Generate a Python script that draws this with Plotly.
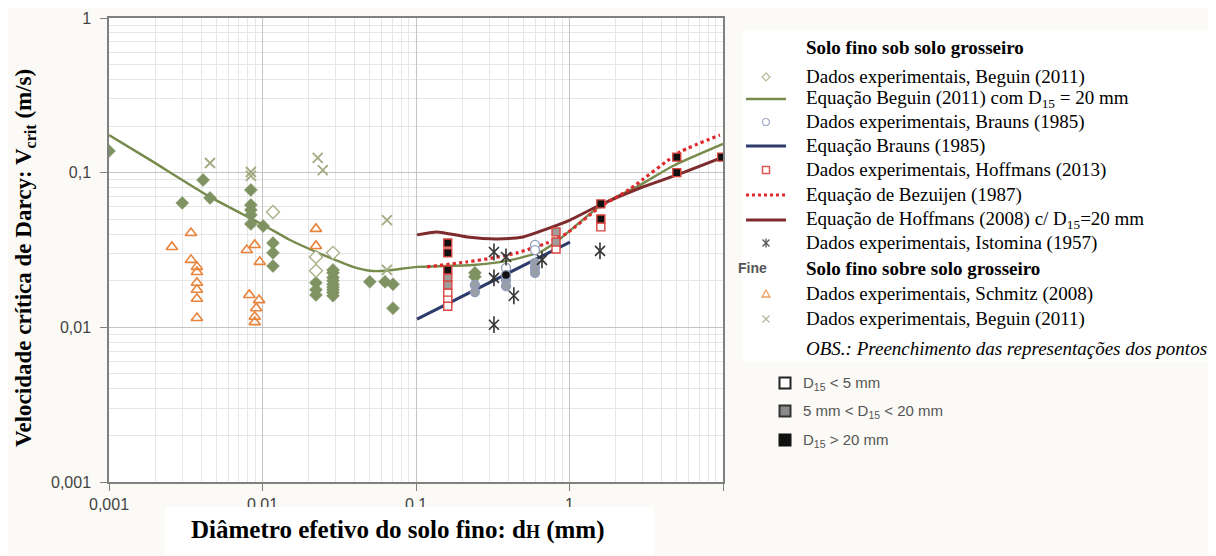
import plotly.graph_objects as go

# ---------------- DATA ----------------
# Equação Beguin (2011) com D15 = 20 mm
beguin_eq_x = [0.001, 0.00185, 0.00455, 0.0101, 0.0151, 0.0224, 0.032, 0.0389, 0.0501, 0.0628,
               0.1016, 0.235, 0.391, 0.643, 0.867, 1.58, 2.88, 4.72, 10.0]
beguin_eq_y = [0.175, 0.121, 0.0697, 0.0459, 0.0367, 0.0307, 0.0265, 0.0246, 0.0232, 0.0232,
               0.0246, 0.0253, 0.0269, 0.0307, 0.0373, 0.0609, 0.0832, 0.1105, 0.1534]
# Equação Brauns (1985)
brauns_eq_x = [0.1016, 1.007]
brauns_eq_y = [0.0113, 0.0356]
# Equação de Bezuijen (1987)
bezuijen_eq_x = [0.118, 0.215, 0.318, 0.455, 0.713, 0.964, 1.58, 2.48, 5.25, 9.55]
bezuijen_eq_y = [0.0246, 0.0265, 0.0281, 0.0303, 0.0351, 0.0407, 0.060, 0.0785, 0.136, 0.175]
# Equação de Hoffmans (2008) c/ D15=20 mm
hoffmans_eq_x = [0.1016, 0.137, 0.215, 0.337, 0.498, 0.713, 1.007, 1.58, 2.88, 5.01, 10.0]
hoffmans_eq_y = [0.0396, 0.0414, 0.0384, 0.0373, 0.0384, 0.0433, 0.0494, 0.0618, 0.0796, 0.0967, 0.126]

# Dados experimentais, Beguin (2011) - solo fino sob solo grosseiro (filled diamonds)
beguin_fill_x = [0.001, 0.0030, 0.0041, 0.00455, 0.0084, 0.0084, 0.0084, 0.0084, 0.0084, 0.0101,
                 0.0117, 0.0117, 0.0117, 0.0223, 0.0223, 0.0223,
                 0.0288, 0.0288, 0.0288, 0.0288, 0.0288, 0.0288, 0.0288, 0.0288, 0.0288,
                 0.050, 0.0628, 0.0708, 0.0708, 0.242, 0.242]
beguin_fill_y = [0.138, 0.0637, 0.0897, 0.0687, 0.0773, 0.0618, 0.0574, 0.0533, 0.0466, 0.0452,
                 0.0351, 0.0303, 0.0249, 0.0194, 0.0175, 0.0162,
                 0.0235, 0.0225, 0.021, 0.020, 0.019, 0.0182, 0.0175, 0.0168, 0.016,
                 0.0197, 0.0197, 0.019, 0.0133, 0.0212, 0.0225]
# hollow diamonds (D15 < 5 mm)
beguin_open_x = [0.0117, 0.0223, 0.0223, 0.0288]
beguin_open_y = [0.0557, 0.0285, 0.0232, 0.0303]

# Dados experimentais, Beguin (2011) - solo fino sobre solo grosseiro (x)
beguin_x_x = [0.00455, 0.0084, 0.0084, 0.0229, 0.0247, 0.0647, 0.0647]
beguin_x_y = [0.1155, 0.101, 0.0952, 0.1245, 0.104, 0.0494, 0.0235]

# Dados experimentais, Schmitz (2008)
schmitz_x = [0.00257, 0.00342, 0.00342, 0.00374, 0.00374, 0.00374, 0.00374, 0.00374, 0.00374,
             0.0079, 0.0089, 0.0096, 0.0082, 0.0095, 0.0091, 0.0089, 0.0089, 0.0223, 0.0223]
schmitz_y = [0.0331, 0.0407, 0.0273, 0.0246, 0.0228, 0.0194, 0.0175, 0.0153, 0.0115,
             0.0316, 0.0341, 0.0265, 0.0162, 0.015, 0.0133, 0.0117, 0.0108, 0.0433, 0.0336]

# Dados experimentais, Brauns (1985)
brauns_grey_x = [0.242, 0.242, 0.386, 0.386, 0.596, 0.596, 0.596]
brauns_grey_y = [0.0188, 0.0169, 0.0202, 0.0185, 0.0261, 0.0242, 0.0225]
brauns_open_x = [0.386, 0.596, 0.596]
brauns_open_y = [0.0242, 0.0341, 0.0316]
brauns_black_x = [0.386]
brauns_black_y = [0.0218]

# Dados experimentais, Hoffmans (2013)
hoff_black_x = [0.161, 0.161, 0.161, 1.6, 1.6, 5.0, 5.0, 9.8]
hoff_black_y = [0.0351, 0.0303, 0.0235, 0.0628, 0.0502, 0.126, 0.100, 0.126]
hoff_grey_x = [0.161, 0.161, 0.817, 0.817]
hoff_grey_y = [0.0209, 0.0188, 0.0414, 0.0356]
hoff_open_x = [0.161, 0.161, 0.161, 0.817, 1.6]
hoff_open_y = [0.0167, 0.015, 0.0137, 0.0321, 0.0446]

# Dados experimentais, Istomina (1957)
istomina_x = [0.322, 0.386, 0.322, 0.434, 0.322, 0.662, 1.58]
istomina_y = [0.0307, 0.0285, 0.0209, 0.016, 0.0104, 0.0273, 0.0312]

x_tick_vals = [0.001, 0.01, 0.1, 1, 10]
x_tick_text = ["0,001", "0,01", "0,1", "1", ""]
y_tick_vals = [0.001, 0.01, 0.1, 1]
y_tick_text = ["0,001", "0,01", "0,1", "1"]

# ---------------- STYLE / LAYOUT ----------------
W, H = 1216, 556
PAGE = 8                      # page offset of the figure in the browser
PL, PR, PT, PB = 109, 723, 18, 482   # plot box in screen pixels
ML, MT = PL - PAGE, PT - PAGE
PW, PH = PR - PL, PB - PT
MR, MB = W - ML - PW, H - MT - PH

OLIVE = "#778b4c"
OLIVE_FILL = "#7f9362"
NAVY = "#2d3b6a"
RED = "#e0282c"
MAROON = "#7e2b2d"
ORANGE = "#e8843c"
LIGHTGREEN = "#a3ab82"
SQ_RED = "#d9443f"
CIRC = "#8e9cbc"
SERIF = "Liberation Serif"
SANS = "Liberation Sans"


def pxx(p):  # screen pixel -> paper x
    return (p - PL) / PW


def pxy(p):  # screen pixel -> paper y
    return (PB - p) / PH


fig = go.Figure()

# lines
fig.add_trace(go.Scatter(x=beguin_eq_x, y=beguin_eq_y, mode="lines",
                         line=dict(color=OLIVE, width=2.4, shape="spline", smoothing=0.6)))
fig.add_trace(go.Scatter(x=brauns_eq_x, y=brauns_eq_y, mode="lines", line=dict(color=NAVY, width=3)))
fig.add_trace(go.Scatter(x=hoffmans_eq_x, y=hoffmans_eq_y, mode="lines",
                         line=dict(color=MAROON, width=3, shape="spline", smoothing=0.6)))
fig.add_trace(go.Scatter(x=bezuijen_eq_x, y=bezuijen_eq_y, mode="lines",
                         line=dict(color=RED, width=3.2, dash="dot", shape="spline", smoothing=0.6)))

# markers
fig.add_trace(go.Scatter(x=schmitz_x, y=schmitz_y, mode="markers",
                         marker=dict(symbol="triangle-up-open", size=10, color=ORANGE, line=dict(width=1.6, color=ORANGE))))
fig.add_trace(go.Scatter(x=beguin_x_x, y=beguin_x_y, mode="markers",
                         marker=dict(symbol="x-thin-open", size=10, color=LIGHTGREEN, line=dict(width=1.8, color=LIGHTGREEN))))
fig.add_trace(go.Scatter(x=beguin_fill_x, y=beguin_fill_y, mode="markers",
                         marker=dict(symbol="diamond", size=10, color=OLIVE_FILL, line=dict(width=0.5, color=OLIVE_FILL))))
fig.add_trace(go.Scatter(x=beguin_open_x, y=beguin_open_y, mode="markers",
                         marker=dict(symbol="diamond", size=10, color="white", line=dict(width=1.4, color="#a8b28a"))))
fig.add_trace(go.Scatter(x=brauns_grey_x, y=brauns_grey_y, mode="markers",
                         marker=dict(symbol="circle", size=9, color="#9a9ea6", line=dict(width=1.3, color=CIRC))))
fig.add_trace(go.Scatter(x=brauns_open_x, y=brauns_open_y, mode="markers",
                         marker=dict(symbol="circle", size=9, color="white", line=dict(width=1.3, color=CIRC))))
fig.add_trace(go.Scatter(x=brauns_black_x, y=brauns_black_y, mode="markers",
                         marker=dict(symbol="circle", size=9, color="#111111", line=dict(width=1.3, color=CIRC))))
# Istomina: "x" + vertical bar
fig.add_trace(go.Scatter(x=istomina_x, y=istomina_y, mode="markers",
                         marker=dict(symbol="x-thin-open", size=10, color="#333333", line=dict(width=1.6, color="#333333"))))
fig.add_trace(go.Scatter(x=istomina_x, y=istomina_y, mode="markers",
                         marker=dict(symbol="line-ns-open", size=12, color="#333333", line=dict(width=1.6, color="#333333"))))
fig.add_trace(go.Scatter(x=hoff_open_x, y=hoff_open_y, mode="markers",
                         marker=dict(symbol="square", size=8, color="white", line=dict(width=1.4, color=SQ_RED))))
fig.add_trace(go.Scatter(x=hoff_grey_x, y=hoff_grey_y, mode="markers",
                         marker=dict(symbol="square", size=8, color="#a09c9a", line=dict(width=1.4, color=SQ_RED))))
fig.add_trace(go.Scatter(x=hoff_black_x, y=hoff_black_y, mode="markers",
                         marker=dict(symbol="square", size=8, color="#111111", line=dict(width=1.4, color=SQ_RED))))

# ---------------- LEGEND (shapes + annotations, screen pixel positions) ----------------
ROW = dict(h1=47, beg=77, begeq=99, bra=122, braeq=146, hof=170, bez=195, hofeq=220, ist=243,
           h2=268, sch=294, begx=319, obs=348, s1=383, s2=411, s3=440)
LX0, LX1, LM, TX = 746, 786, 766, 804

shapes = [
    # white box behind the legend text
    dict(type="rect", xref="paper", yref="paper", x0=pxx(742), x1=pxx(W + 20), y0=pxy(30), y1=pxy(362),
         fillcolor="white", line=dict(width=0), layer="below"),
    # white box behind the x-axis title
    dict(type="rect", xref="paper", yref="paper", x0=pxx(165), x1=pxx(654), y0=pxy(507), y1=pxy(H + 20),
         fillcolor="white", line=dict(width=0), layer="above"),
]


def leg_line(yp, color, dash="solid", width=3):
    shapes.append(dict(type="line", xref="paper", yref="paper", x0=pxx(LX0), x1=pxx(LX1),
                       y0=pxy(yp), y1=pxy(yp), line=dict(color=color, width=width, dash=dash)))


def pth(points, close=True):
    s = "M " + " L ".join(f"{pxx(x):.5f},{pxy(y):.5f}" for x, y in points)
    return s + (" Z" if close else "")


def leg_poly(points, fill, lc, lw=1.2, close=True):
    shapes.append(dict(type="path", xref="paper", yref="paper", path=pth(points, close),
                       fillcolor=fill, line=dict(color=lc, width=lw)))


def leg_rect(cx, cy, r, fill, lc, lw=1.2):
    shapes.append(dict(type="rect", xref="paper", yref="paper", x0=pxx(cx - r), x1=pxx(cx + r),
                       y0=pxy(cy + r), y1=pxy(cy - r), fillcolor=fill, line=dict(color=lc, width=lw)))


def leg_circle(cx, cy, r, fill, lc, lw=1.2):
    shapes.append(dict(type="circle", xref="paper", yref="paper", x0=pxx(cx - r), x1=pxx(cx + r),
                       y0=pxy(cy + r), y1=pxy(cy - r), fillcolor=fill, line=dict(color=lc, width=lw)))


r = 4
leg_poly([(LM, ROW["beg"] - r), (LM + r, ROW["beg"]), (LM, ROW["beg"] + r), (LM - r, ROW["beg"])], "white", "#b3bb96")
leg_line(ROW["begeq"], OLIVE, width=2.5)
leg_circle(LM, ROW["bra"], 3.5, "white", "#a3acc6")
leg_line(ROW["braeq"], NAVY)
leg_rect(LM, ROW["hof"], 3.5, "white", "#de5a56", 1.5)
leg_line(ROW["bez"], RED, dash="dot")
leg_line(ROW["hofeq"], MAROON)
yi = ROW["ist"]
leg_poly([(LM - 3.5, yi - 3.5), (LM + 3.5, yi + 3.5)], None, "#555", 1.3, close=False)
leg_poly([(LM - 3.5, yi + 3.5), (LM + 3.5, yi - 3.5)], None, "#555", 1.3, close=False)
leg_poly([(LM, yi - 4.5), (LM, yi + 4.5)], None, "#555", 1.3, close=False)
ys = ROW["sch"]
leg_poly([(LM, ys - 4), (LM + 4, ys + 3), (LM - 4, ys + 3)], "white", "#eda060", 1.3)
yb = ROW["begx"]
leg_poly([(LM - 3.5, yb - 3.5), (LM + 3.5, yb + 3.5)], None, "#b3b99a", 1.3, close=False)
leg_poly([(LM - 3.5, yb + 3.5), (LM + 3.5, yb - 3.5)], None, "#b3b99a", 1.3, close=False)
leg_rect(785, ROW["s1"], 5.5, "white", "#222", 2)
leg_rect(785, ROW["s2"], 5.5, "#8a8a8a", "#333", 2)
leg_rect(785, ROW["s3"], 5.5, "#111", "#111", 2)

annotations = []
legend_rows = [
    ("h1", "<b>Solo fino sob solo grosseiro</b>"),
    ("beg", "Dados experimentais, Beguin (2011)"),
    ("begeq", "Equação Beguin (2011) com D<sub>15</sub> = 20 mm"),
    ("bra", "Dados experimentais, Brauns (1985)"),
    ("braeq", "Equação Brauns (1985)"),
    ("hof", "Dados experimentais, Hoffmans (2013)"),
    ("bez", "Equação de Bezuijen (1987)"),
    ("hofeq", "Equação de Hoffmans (2008) c/ D<sub>15</sub>=20 mm"),
    ("ist", "Dados experimentais, Istomina (1957)"),
    ("h2", "<b>Solo fino sobre solo grosseiro</b>"),
    ("sch", "Dados experimentais, Schmitz (2008)"),
    ("begx", "Dados experimentais, Beguin (2011)"),
    ("obs", "<i>OBS.: Preenchimento das representações dos pontos</i>"),
]
for key, t in legend_rows:
    annotations.append(dict(x=pxx(TX), y=pxy(ROW[key]), xref="paper", yref="paper", text=t, showarrow=False,
                            xanchor="left", yanchor="middle", font=dict(family=SERIF, size=19, color="black")))
annotations.append(dict(x=pxx(736), y=pxy(ROW["h2"]), xref="paper", yref="paper", text="<b>Fine</b>",
                        showarrow=False, xanchor="left", yanchor="middle",
                        font=dict(family=SANS, size=14, color="#555")))
for key, t in [("s1", "D<sub>15</sub> < 5 mm"), ("s2", "5 mm < D<sub>15</sub> < 20 mm"), ("s3", "D<sub>15</sub> > 20 mm")]:
    annotations.append(dict(x=pxx(801), y=pxy(ROW[key]), xref="paper", yref="paper", text=t, showarrow=False,
                            xanchor="left", yanchor="middle", font=dict(family=SANS, size=15, color="#555")))

# axis titles
annotations.append(dict(x=pxx(25), y=pxy(258), xref="paper", yref="paper",
                        text="<b>Velocidade crítica de Darcy: V<sub>crit</sub> (m/s)</b>", textangle=-90,
                        showarrow=False, xanchor="center", yanchor="middle",
                        font=dict(family=SERIF, size=23, color="black")))
annotations.append(dict(x=pxx(398), y=pxy(530), xref="paper", yref="paper",
                        text="<b>Diâmetro efetivo do solo fino: d<span style='font-size:18px'>H</span> (mm)</b>",
                        showarrow=False, xanchor="center", yanchor="middle",
                        font=dict(family=SERIF, size=25, color="black")))

minor_vals = [m * 10.0 ** e for e in range(-3, 1) for m in range(2, 10)]

axis_common = dict(type="log", showgrid=True, gridcolor="#c4c4c4", gridwidth=1,
                   showline=True, linecolor="#808080", linewidth=1.5, mirror=True,
                   ticks="outside", ticklen=7, tickcolor="#808080", zeroline=False,
                   automargin=False,
                   tickfont=dict(family=SANS, size=16, color="#444"),
                   minor=dict(tickmode="array", tickvals=minor_vals, showgrid=True,
                              gridcolor="#e6e6e6", gridwidth=1, ticklen=0))

fig.update_layout(
    width=W, height=H, showlegend=False, autosize=False,
    margin=dict(l=ML, r=MR, t=MT, b=MB, pad=0, autoexpand=False),
    paper_bgcolor="#fbfaf6", plot_bgcolor="white",
    xaxis=dict(range=[-3, 1], tickmode="array", tickvals=x_tick_vals, ticktext=x_tick_text, **axis_common),
    yaxis=dict(range=[-3, 0], tickmode="array", tickvals=y_tick_vals, ticktext=y_tick_text,
               ticklabelstandoff=6, **axis_common),
    annotations=annotations,
    shapes=shapes,
)

fig.write_html("out.html")
